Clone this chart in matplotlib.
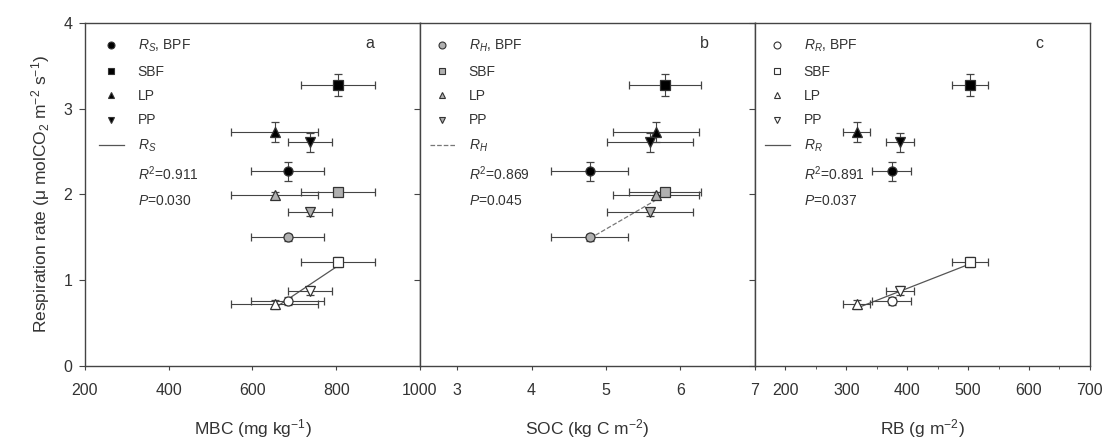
import numpy as np
import matplotlib
matplotlib.use('Agg')
import matplotlib.pyplot as plt
from matplotlib.lines import Line2D
from matplotlib.ticker import MultipleLocator

plt.rcParams['font.family'] = ['Liberation Sans', 'DejaVu Sans']
plt.rcParams['mathtext.fontset'] = 'custom'
plt.rcParams['mathtext.rm'] = 'Liberation Sans'
plt.rcParams['mathtext.it'] = 'Liberation Sans:italic'

# stands: BPF, SBF, LP, PP
stands = ['BPF', 'SBF', 'LP', 'PP']
markers = ['o', 's', '^', 'v']

mbc = [684, 804, 653, 737]
mbc_err = [87, 88, 104, 52]
soc = [4.78, 5.79, 5.67, 5.59]
soc_err = [0.52, 0.48, 0.58, 0.58]
rb = [375, 503, 317, 388]
rb_err = [32, 30, 22, 23]

rs = [2.27, 3.28, 2.73, 2.61]
rs_err = [0.11, 0.13, 0.12, 0.11]
rh = [1.50, 2.03, 1.99, 1.79]
rh_err = [0.04, 0.04, 0.04, 0.04]
rr = [0.76, 1.21, 0.72, 0.88]
rr_err = [0.05, 0.06, 0.05, 0.05]

stats = {'a': ('0.911', '0.030'), 'b': ('0.869', '0.045'), 'c': ('0.891', '0.037')}

ink = '#333333'
fig = plt.figure(figsize=(11.11, 4.45), dpi=100)
w = 0.3015
ax1 = fig.add_axes([0.0765, 0.1775, w, 0.771])
ax2 = fig.add_axes([0.0765 + w, 0.1775, w, 0.771])
ax3 = fig.add_axes([0.0765 + 2 * w, 0.1775, w, 0.771])


def draw_series(ax, x, xerr, y, yerr, face):
    for i in range(4):
        ax.errorbar(x[i], y[i], xerr=xerr[i], yerr=yerr[i], fmt=markers[i],
                    ms=6.5, mfc=face, mec=ink, mew=0.9, ecolor='#444444',
                    elinewidth=0.8, capsize=3, capthick=0.8, zorder=3)


def fit_line(ax, x, y, **kw):
    k, b = np.polyfit(x, y, 1)
    xs = np.array([min(x), max(x)])
    ax.plot(xs, k * xs + b, zorder=2, **kw)


def add_legend(ax, sub, face, line_kw, letter, lx):
    r2, p = stats[letter]
    handles = [Line2D([], [], ls='none', marker=m, ms=5, mfc=face, mec=ink, mew=0.8)
               for m in markers]
    handles.append(Line2D([], [], **line_kw))
    handles += [Line2D([], [], ls='none'), Line2D([], [], ls='none')]
    labels = ['$R_{%s}$, BPF' % sub] + stands[1:] + ['$R_{%s}$' % sub,
                                                     '$R^2$=' + r2, '$P$=' + p]
    leg = ax.legend(handles, labels, loc='upper left', frameon=False, fontsize=10,
                    handlelength=1.8, handletextpad=1.0, labelspacing=0.75,
                    borderaxespad=0.3, bbox_to_anchor=(lx, 0.985))
    for t in leg.get_texts():
        t.set_color(ink)
    ax.text(0.85, 0.94, letter, transform=ax.transAxes, fontsize=11.5,
            color=ink, ha='center', va='center')


# panel a: all three fluxes, b: total and heterotrophic, c: total and root
draw_series(ax1, mbc, mbc_err, rs, rs_err, 'black')
draw_series(ax1, mbc, mbc_err, rh, rh_err, '#b0b0b0')
draw_series(ax1, mbc, mbc_err, rr, rr_err, 'white')
draw_series(ax2, soc, soc_err, rs, rs_err, 'black')
draw_series(ax2, soc, soc_err, rh, rh_err, '#b0b0b0')
draw_series(ax3, rb, rb_err, rs, rs_err, 'black')
draw_series(ax3, rb, rb_err, rr, rr_err, 'white')

fit_line(ax1, mbc, rr, color='#555555', lw=0.9)
fit_line(ax2, soc, rh, color='#777777', lw=0.9, ls='--')
fit_line(ax3, rb, rr, color='#555555', lw=0.9)

add_legend(ax1, 'S', 'black', dict(color='#555555', lw=0.9), 'a', 0.012)
add_legend(ax2, 'H', '#b0b0b0', dict(color='#777777', lw=0.9, ls='--'), 'b', 0.0)
add_legend(ax3, 'R', 'white', dict(color='#555555', lw=0.9), 'c', 0.0)

ax1.set_xlim(200, 1000)
ax1.set_xticks([200, 400, 600, 800, 1000])
ax2.set_xlim(2.5, 7)
ax2.set_xticks([3, 4, 5, 6, 7])
ax3.set_xlim(150, 700)
ax3.set_xticks([200, 300, 400, 500, 600, 700])
ax3.xaxis.set_minor_locator(MultipleLocator(50))

for ax in (ax1, ax2, ax3):
    ax.set_ylim(0, 4)
    ax.set_yticks([0, 1, 2, 3, 4])
    for s in ax.spines.values():
        s.set_color('#444444')
        s.set_linewidth(1.0)
    ax.tick_params(axis='x', which='both', direction='out', length=3,
                   color='#444444', labelcolor=ink, labelsize=11.5, pad=9)
    ax.tick_params(axis='y', direction='in', length=4, color='#444444',
                   labelcolor=ink, labelsize=11.5)
    ax.tick_params(axis='x', which='minor', length=2)

ax1.tick_params(axis='y', direction='out', length=4, pad=5)
ax2.tick_params(axis='y', labelleft=False, left=False, right=True)
ax3.tick_params(axis='y', labelleft=False, left=False)
sec = ax1.secondary_yaxis('right')
sec.set_yticks([1, 2, 3])
sec.tick_params(direction='in', length=4, labelright=False, color='#444444')
sec.spines['right'].set_visible(False)

ax1.set_ylabel('Respiration rate (μ molCO$_2$ m$^{-2}$ s$^{-1}$)', fontsize=12.5,
               color=ink, labelpad=8)
for ax, lab in [(ax1, 'MBC (mg kg$^{-1}$)'), (ax2, 'SOC (kg C m$^{-2}$)'),
                (ax3, 'RB (g m$^{-2}$)')]:
    ax.set_xlabel(lab, fontsize=12.5, color=ink, labelpad=14)

fig.savefig('out.png', dpi=100)
